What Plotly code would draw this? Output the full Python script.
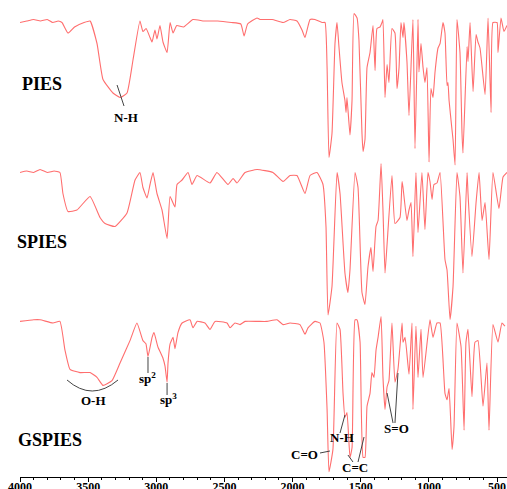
import plotly.graph_objects as go

# ---------------- data (wavenumber cm-1, transmittance %) ----------------
PIES_WN = [4000, 3950, 3900, 3850, 3800, 3760, 3720, 3692, 3648, 3600, 3530, 3486, 3435, 3391, 3318, 3266, 3215, 3171, 3120, 3098, 3075, 3046, 3031, 3010, 2995, 2973, 2951, 2921, 2899, 2877, 2850, 2800, 2731, 2650, 2550, 2450, 2380, 2356, 2330, 2261, 2239, 2150, 2070, 2019, 1968, 1931, 1909, 1872, 1836, 1784, 1762, 1747, 1733, 1711, 1689, 1674, 1660, 1638, 1616, 1608, 1601, 1579, 1564, 1549, 1527, 1513, 1491, 1483, 1469, 1454, 1432, 1410, 1395, 1381, 1359, 1344, 1337, 1322, 1307, 1293, 1271, 1249, 1234, 1219, 1205, 1190, 1183, 1161, 1146, 1117, 1102, 1080, 1073, 1058, 1043, 1029, 1014, 999, 985, 970, 955, 933, 918, 897, 882, 867, 860, 852, 830, 823, 808, 794, 772, 757, 750, 720, 713, 698, 676, 654, 640, 625, 588, 566, 544, 530, 500, 493, 471, 449, 427]
PIES_T = [95, 96, 97, 96, 97, 95, 96, 95, 88, 92, 95, 96, 81, 57, 48, 45, 48, 70, 96, 89, 91, 85, 82, 90, 84, 93, 82, 75, 95, 88, 93, 92, 97, 96, 96, 95, 94, 86, 94, 98, 97, 97, 95, 97, 96, 90, 85, 97, 97, 95, 95, 65, 5, 21, 81, 95, 79, 55, 43, 35, 45, 20, 43, 101, 98, 83, 21, 9, 17, 65, 75, 93, 63, 91, 92, 95, 97, 45, 67, 55, 91, 88, 51, 65, 95, 85, 95, 69, 33, 97, 11, 97, 62, 81, 65, 55, 65, 2, 51, 45, 62, 78, 81, 95, 88, 53, 55, 43, 23, 17, 0, 97, 75, 21, 8, 79, 69, 95, 49, 87, 82, 78, 47, 98, 35, 95, 95, 75, 98, 89, 93]

SPIES_WN = [4000, 3950, 3900, 3853, 3800, 3750, 3707, 3685, 3648, 3582, 3486, 3413, 3376, 3303, 3215, 3156, 3120, 3098, 3068, 3046, 3024, 2995, 2958, 2921, 2899, 2863, 2848, 2811, 2767, 2738, 2701, 2606, 2555, 2474, 2437, 2408, 2349, 2261, 2144, 2070, 2019, 1968, 1909, 1872, 1821, 1777, 1755, 1740, 1711, 1674, 1652, 1616, 1594, 1579, 1542, 1520, 1491, 1469, 1447, 1425, 1410, 1388, 1373, 1351, 1337, 1322, 1307, 1271, 1249, 1212, 1197, 1190, 1161, 1146, 1131, 1117, 1095, 1080, 1051, 1029, 1007, 992, 977, 963, 941, 918, 882, 867, 845, 823, 794, 772, 750, 720, 713, 684, 654, 632, 610, 588, 559, 530, 486, 456, 427]
SPIES_T = [95, 96, 95, 97, 95, 96, 95, 81, 69, 70, 79, 65, 61, 59, 68, 90, 95, 85, 78, 87, 95, 81, 70, 51, 79, 72, 87, 90, 95, 87, 93, 88, 95, 87, 91, 88, 95, 97, 95, 89, 93, 93, 81, 93, 95, 87, 59, 0, 19, 95, 81, 28, 15, 30, 95, 85, 15, 7, 32, 45, 29, 59, 63, 101, 70, 28, 47, 93, 61, 65, 89, 85, 63, 70, 75, 39, 95, 55, 95, 57, 95, 89, 77, 87, 88, 95, 37, 30, -3, 19, 95, 79, 28, 95, 81, 39, 75, 95, 63, 75, 37, 95, 71, 92, 95]

GSPIES_WN = [4000, 3900, 3853, 3758, 3707, 3670, 3633, 3560, 3486, 3435, 3391, 3325, 3266, 3193, 3142, 3098, 3076, 3061, 3031, 3017, 2988, 2951, 2936, 2921, 2914, 2899, 2877, 2863, 2841, 2811, 2753, 2731, 2701, 2643, 2606, 2569, 2481, 2459, 2423, 2386, 2349, 2254, 2188, 2114, 2070, 2019, 1946, 1909, 1887, 1836, 1799, 1770, 1747, 1733, 1704, 1674, 1652, 1630, 1616, 1601, 1579, 1564, 1542, 1527, 1505, 1483, 1469, 1454, 1432, 1418, 1403, 1388, 1373, 1351, 1337, 1322, 1307, 1293, 1271, 1249, 1227, 1197, 1190, 1175, 1146, 1124, 1117, 1095, 1080, 1058, 1043, 992, 970, 941, 918, 882, 867, 852, 830, 816, 794, 764, 742, 728, 713, 684, 662, 640, 603, 574, 559, 530, 493, 464, 442]
GSPIES_T = [96, 97, 97, 95, 96, 78, 66, 64, 64, 61, 56, 59, 70, 84, 95, 84, 82, 74, 86, 89, 80, 73, 68, 58, 70, 82, 86, 79, 89, 95, 97, 92, 96, 95, 91, 96, 95, 92, 95, 94, 96, 96, 96, 97, 94, 95, 94, 88, 92, 96, 95, 83, 41, 2, 16, 95, 91, 51, 36, 39, 11, 17, 97, 97, 83, 11, 11, 43, 51, 64, 61, 78, 86, 99, 61, 41, 55, 59, 95, 58, 66, 95, 83, 86, 63, 95, 41, 93, 61, 91, 61, 97, 86, 95, 95, 51, 47, 54, 16, 30, 95, 80, 28, 83, 91, 49, 83, 84, 43, 70, 28, 94, 83, 95, 93]

TICK_VALUES = [4000, 3500, 3000, 2500, 2000, 1500, 1000, 500]
TICK_LABELS = ["4000", "3500", "3000", "2500", "2000", "1500", "1000", "500"]

# ---------------- styling (vertical stacking of the spectra) ----------------
STACK = {"PIES": (312, 1.5), "SPIES": (162, 1.5), "GSPIES": (2, 1.6)}
RED = "rgb(255,110,110)"
SERIF = "Liberation Serif"

fig = go.Figure()
for name, wn, t in [("PIES", PIES_WN, PIES_T), ("SPIES", SPIES_WN, SPIES_T), ("GSPIES", GSPIES_WN, GSPIES_T)]:
    off, sc = STACK[name]
    fig.add_trace(go.Scatter(x=wn, y=[off + sc * v for v in t], mode="lines",
                             line=dict(color=RED, width=1.1, shape="spline", smoothing=0.4),
                             name=name, showlegend=False,
                             hoverinfo="skip", cliponaxis=False))

big = dict(family=SERIF, size=18, color="black", weight="bold")
small = dict(family=SERIF, size=13, color="black", weight="bold")

annos = [
    dict(text="PIES", xref="paper", x=0.0, y=393, xanchor="left", font=big),
    dict(text="SPIES", xref="paper", x=-0.01, y=235, xanchor="left", font=big),
    dict(text="GSPIES", xref="paper", x=-0.008, y=37, xanchor="left", font=big),
    dict(text="N-H", x=3222, y=360, font=small),
    dict(text="O-H", x=3464, y=77, font=small),
    dict(text="sp<sup>2</sup>", x=3061, y=99, font=small),
    dict(text="sp<sup>3</sup>", x=2914, y=78, font=small),
    dict(text="C=O", x=1916, y=23, font=small),
    dict(text="N-H", x=1638, y=40, font=small),
    dict(text="C=C", x=1542, y=10, font=small),
    dict(text="S=O", x=1241, y=49, font=small),
]
for a in annos:
    a.setdefault("xref", "x")
    a["yref"] = "y"
    a["showarrow"] = False
    fig.add_annotation(**a)

LC = dict(color="#444444", width=1)
leaders = [
    (3288, 392, 3237, 371),
    (3061, 120, 3061, 104),
    (2921, 94, 2921, 82),
    (1799, 24, 1726, 26),
    (1652, 44, 1616, 62),
    (1557, 15, 1594, 22),
    (1520, 15, 1476, 40),
    (1263, 54, 1307, 84),
    (1249, 54, 1227, 104),
]
for x0, y0, x1, y1 in leaders:
    fig.add_shape(type="line", xref="x", yref="y", x0=x0, y0=y0, x1=x1, y1=y1, line=LC)
fig.add_shape(type="path", xref="x", yref="y",
              path="M 3655 97 Q 3472 75 3281 97", line=LC)

fig.update_layout(
    template="none",
    width=507, height=489,
    margin=dict(l=20, r=0, t=0, b=12, pad=0),
    paper_bgcolor="white", plot_bgcolor="white",
    xaxis=dict(range=[4000, 427], automargin=False, showline=True, linecolor="black", linewidth=1,
               ticks="outside", ticklen=4, tickcolor="black", tickwidth=1,
               tickvals=TICK_VALUES, ticktext=TICK_LABELS, ticklabelstandoff=-5,
               minor=dict(dtick=100, tick0=0, ticks="outside", ticklen=2, tickcolor="black"),
               showgrid=False, zeroline=False,
               tickfont=dict(family=SERIF, size=12, color="black", weight="bold")),
    yaxis=dict(range=[0, 477], automargin=False, visible=False, showgrid=False, zeroline=False),
)

fig.write_html("out.html", config={"displayModeBar": False},
               post_script="document.body.style.margin='0';document.body.style.overflow='hidden';")
